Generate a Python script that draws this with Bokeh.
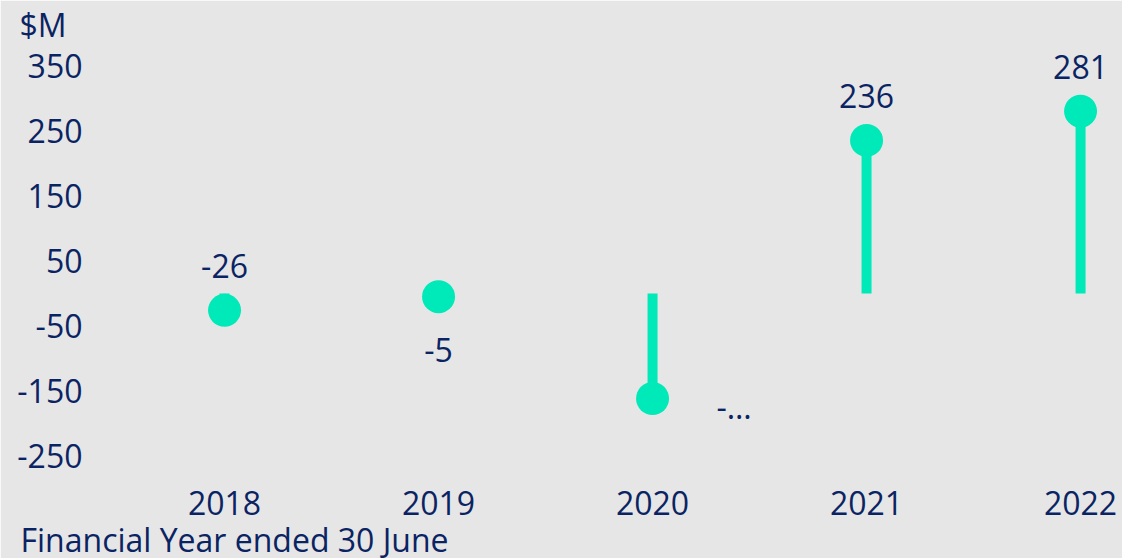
from bokeh.plotting import figure
from bokeh.models import Range1d, FixedTicker, Title, ColumnDataSource
from bokeh.embed import file_html
from bokeh.resources import INLINE
from bokeh.core.properties import value

# ---- data ----
years = ["2018", "2019", "2020", "2021", "2022"]
values = [-26, -5, -162, 236, 281]
value_labels = ["-26", "-5", "-\u2026", "236", "281"]
label_pos = ["above", "below", "right", "above", "above"]
y_ticks = [-250, -150, -50, 50, 150, 250, 350]
unit_label = "$M"
x_title = "Financial Year ended 30 June"

# ---- style ----
BG = "#e7e6e6"
NAVY = "#0a2463"
GREEN = "#00e9b8"
FONT = "Open Sans"
FS = "32px"

xs = list(range(len(years)))

p = figure(width=1122, height=558, output_backend="svg", toolbar_location=None,
           x_range=Range1d(-0.617, 4.196), y_range=Range1d(-279.2, 382.3),
           min_border_left=92, min_border_right=0, min_border_top=0,
           min_border_bottom=0)
p.background_fill_color = BG
p.border_fill_color = BG
p.outline_line_color = BG
p.outline_line_width = 3
p.grid.visible = False

for ax in (p.xaxis[0], p.yaxis[0]):
    ax.axis_line_color = None
    ax.major_tick_line_color = None
    ax.minor_tick_line_color = None
    ax.major_tick_out = 0
    ax.major_tick_in = 0
    ax.major_label_text_font = FONT
    ax.major_label_text_font_size = FS
    ax.major_label_text_color = NAVY

p.xaxis.ticker = FixedTicker(ticks=xs)
p.xaxis.major_label_overrides = {i: y for i, y in zip(xs, years)}
p.xaxis.major_label_standoff = 16
p.yaxis.ticker = FixedTicker(ticks=y_ticks)
p.yaxis.major_label_overrides = {t: str(t) for t in y_ticks}
p.yaxis.major_label_standoff = 10

src = ColumnDataSource(dict(x=xs, y=values, zero=[0] * len(xs)))
p.segment(x0="x", y0="zero", x1="x", y1="y", source=src,
          line_color=GREEN, line_width=10)
p.scatter(x="x", y="y", source=src, size=33, fill_color=GREEN, line_color=None)

offx = {"above": 0, "below": 0, "right": 64}
offy = {"above": -44, "below": 53, "right": 8}
align = {"above": "center", "below": "center", "right": "left"}
lsrc = ColumnDataSource(dict(
    x=xs, y=values, t=value_labels,
    dx=[offx[k] for k in label_pos], dy=[offy[k] for k in label_pos],
    al=[align[k] for k in label_pos]))
p.text(x="x", y="y", text="t", source=lsrc, x_offset="dx", y_offset="dy",
       text_align="al", text_baseline="middle", text_font=value(FONT),
       text_font_size=FS, text_color=NAVY)

p.add_layout(Title(text=unit_label, align="left", offset=-73, standoff=0,
                   text_font=FONT, text_font_size=FS, text_font_style="normal",
                   text_color=NAVY), "above")
p.add_layout(Title(text=x_title, align="left", offset=-72, standoff=-4,
                   text_font=FONT, text_font_size=FS, text_font_style="normal",
                   text_color=NAVY), "below")

html = file_html(p, INLINE)
html = html.replace("<body>", '<body style="background:%s">' % BG, 1)
open("out.html", "w").write(html)
